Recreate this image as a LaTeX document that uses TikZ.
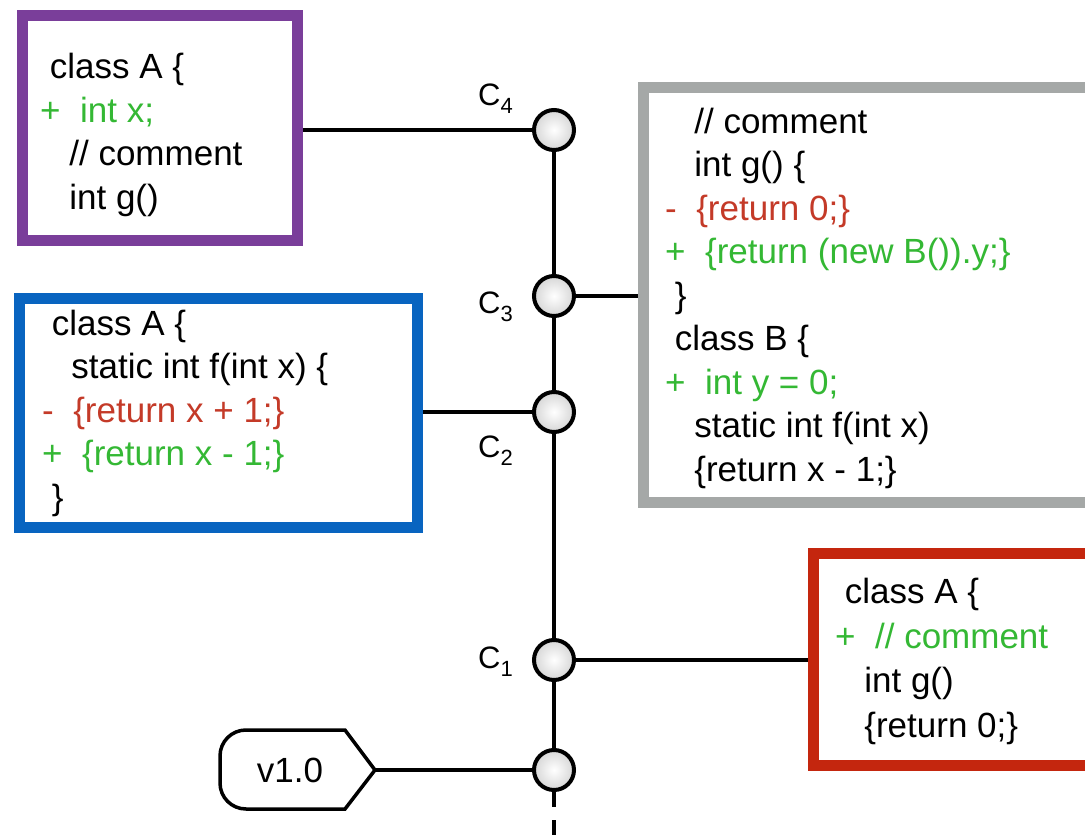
\documentclass[tikz,border=0pt]{standalone}
\usepackage{fontspec}
\setmainfont{Liberation Sans}
\usetikzlibrary{calc, positioning}

\definecolor{boxpurple}{RGB}{122,62,154}
\definecolor{boxblue}{RGB}{8,100,192}
\definecolor{boxgray}{RGB}{165,168,167}
\definecolor{boxred}{RGB}{196,38,14}
\definecolor{addgreen}{RGB}{52,184,52}
\definecolor{delred}{RGB}{196,58,40}

\newcommand{\sps}[1]{\hspace*{#1\fontdimen2\font}}
\newcommand{\addline}[1]{\textcolor{addgreen}{+~~#1}}
\newcommand{\delline}[1]{\textcolor{delred}{-~~#1}}
\newcommand{\sub}[1]{\raisebox{-8pt}{\fontsize{22}{22}\selectfont #1}}

\tikzset{
	frame/.style={draw=#1, line width=11pt, fill=white, inner sep=0pt},
	code/.style={align=left, inner sep=0pt, anchor=base west, font=\fontsize{35}{43.5}\selectfont},
	commit/.style={circle, draw, line width=4pt, minimum size=40pt, inner sep=0pt, inner color=white, outer color=black!16},
	conn/.style={line width=3.5pt},
	clabel/.style={anchor=base west, inner sep=0pt, font=\fontsize{31}{31}\selectfont}
}

\begin{document}
\begin{tikzpicture}[x=1pt, y=1pt]
	\useasboundingbox (0,0) rectangle (1085,-835);

	\node[commit] (c4) at (554,-130) {};
	\node[commit] (c3) at (554,-296) {};
	\node[commit] (c2) at (554,-412) {};
	\node[commit] (c1) at (554,-660) {};
	\node[commit] (c0) at (554,-770) {};
	\coordinate (rootend) at (554,-850);

	\node[clabel] (l4) at (478,-105) {C\sub{4}};
	\node[clabel] (l3) at (478,-313) {C\sub{3}};
	\node[clabel] (l2) at (478,-457) {C\sub{2}};
	\node[clabel] (l1) at (478,-668) {C\sub{1}};

	\node[frame=boxpurple, minimum width=275pt, minimum height=225pt] (b4) at (160,-128) {};
	\node[code] (t4) at (40,-209) {\sps1class A \{\\ \addline{int x;}\\ \sps3// comment\\ \sps3int g()};

	\node[frame=boxgray, minimum width=467pt, minimum height=415pt] (b3) at (877,-294.5) {};
	\node[code] (t3) at (665,-481) {\sps3// comment\\ \sps3int g() \{\\ \delline{\{return 0;\}}\\ \addline{\{return (new B()).y;\}}\\ \sps1\}\\ \sps1class B \{\\ \addline{int y = 0;}\\ \sps3static int f(int x)\\ \sps3\{return x - 1;\}};

	\node[frame=boxblue, minimum width=398pt, minimum height=229pt] (b2) at (218.5,-413) {};
	\node[code] (t2) at (42,-509) {\sps1class A \{\\ \sps3static int f(int x) \{\\ \delline{\{return x + 1;\}}\\ \addline{\{return x - 1;\}}\\ \sps1\}};

	\node[frame=boxred, minimum width=297pt, minimum height=212pt] (b1) at (962,-659) {};
	\node[code, font=\fontsize{35}{44.5}\selectfont] (t1) at (835,-737) {\sps1class A \{\\ \addline{// comment}\\ \sps3int g()\\ \sps3\{return 0;\}};

	\node[font=\fontsize{35}{35}\selectfont, inner sep=0pt] (tag) at (290,-770) {v1.0};
	\coordinate (tagtip) at (375,-770);
	\draw[conn] (345,-730) -- (tagtip) -- (345,-809) -- (246,-809) to[out=180,in=-90] (220,-783) -- (220,-756) to[out=90,in=180] (246,-730) -- cycle;

	\draw[conn] (c4) -- (c3) -- (c2) -- (c1) -- (c0);
	\draw[conn, dash pattern=on 15pt off 13pt] (c0) -- (rootend);
	\draw[conn] (b4.east |- c4) -- (c4);
	\draw[conn] (c3) -- (c3 -| b3.west);
	\draw[conn] (b2.east |- c2) -- (c2);
	\draw[conn] (c1) -- (c1 -| b1.west);
	\draw[conn] (tagtip) -- (c0);
\end{tikzpicture}
\end{document}
